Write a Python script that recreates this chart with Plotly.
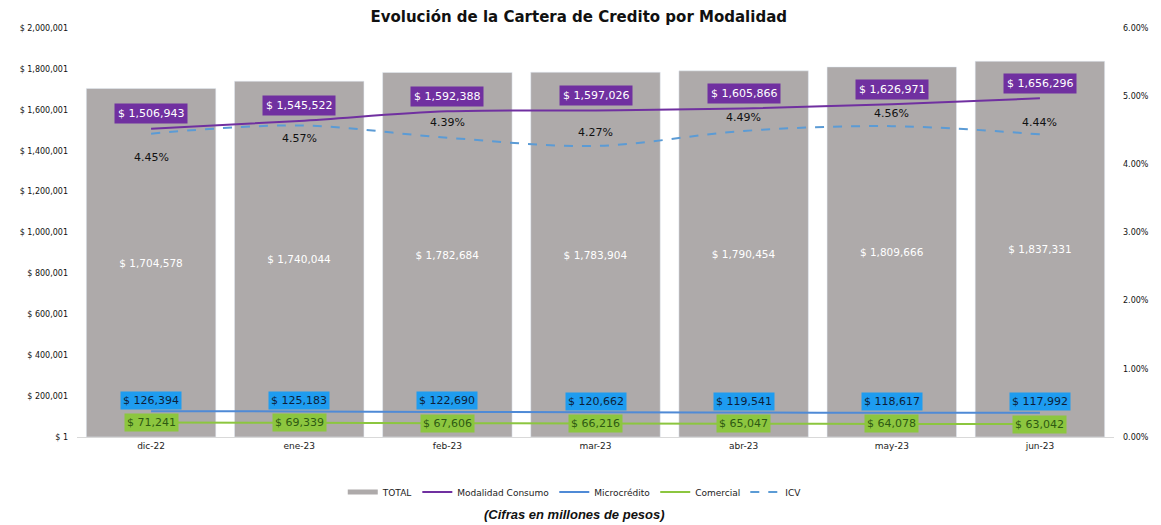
import plotly.graph_objects as go

categories = ["dic-22", "ene-23", "feb-23", "mar-23", "abr-23", "may-23", "jun-23"]
total = [1704578, 1740044, 1782684, 1783904, 1790454, 1809666, 1837331]
consumo = [1506943, 1545522, 1592388, 1597026, 1605866, 1626971, 1656296]
micro = [126394, 125183, 122690, 120662, 119541, 118617, 117992]
comercial = [71241, 69339, 67606, 66216, 65047, 64078, 63042]
icv = [4.45, 4.57, 4.39, 4.27, 4.49, 4.56, 4.44]
icv_label_shift = [-24, -13, 15, 13, 13, 13, 12]

left_tickvals = [1, 200001, 400001, 600001, 800001, 1000001, 1200001, 1400001, 1600001, 1800001, 2000001]
left_ticktext = ["$ " + f"{v:,}" for v in left_tickvals]
right_tickvals = [0, 1, 2, 3, 4, 5, 6]
right_ticktext = [f"{v:.2f}%" for v in right_tickvals]

FONT = "DejaVu Sans"
GRAY = "#aeaaaa"
PURPLE = "#7030a0"
BLUE = "#4f8ad6"
BLUE_BOX = "#1e9cf0"
GREEN = "#8cc63f"
ICV_C = "#5b9bd5"

def fmt(v):
    return "$ " + f"{v:,}"

fig = go.Figure()
fig.add_trace(go.Bar(
    x=categories, y=total, marker_color=GRAY, showlegend=False,
    text=[fmt(v) for v in total], textposition="inside", insidetextanchor="middle",
    textfont=dict(color="white", size=10.5, family=FONT), hoverinfo="skip",
))
# legend proxy for TOTAL
fig.add_trace(go.Scatter(x=[None], y=[None], mode="lines", name="TOTAL",
                         line=dict(color=GRAY, width=5)))
fig.add_trace(go.Scatter(x=categories, y=consumo, mode="lines", name="Modalidad Consumo",
                         line=dict(color=PURPLE, width=2, shape="spline")))
fig.add_trace(go.Scatter(x=categories, y=micro, mode="lines", name="Microcrédito",
                         line=dict(color=BLUE, width=2, shape="spline")))
fig.add_trace(go.Scatter(x=categories, y=comercial, mode="lines", name="Comercial",
                         line=dict(color=GREEN, width=2, shape="spline")))
fig.add_trace(go.Scatter(x=categories, y=icv, mode="lines", name="ICV", yaxis="y2",
                         line=dict(color=ICV_C, width=2, dash="dash", shape="spline")))

ann = []
for c, v in zip(categories, consumo):
    ann.append(dict(x=c, y=v, text=fmt(v), showarrow=False, yshift=15,
                    bgcolor=PURPLE, borderpad=3,
                    font=dict(color="white", size=11, family=FONT)))
for c, v, s in zip(categories, icv, icv_label_shift):
    ann.append(dict(x=c, y=v, yref="y2", text=f"{v:.2f}%", showarrow=False, yshift=s,
                    font=dict(color="#111111", size=11, family=FONT)))
for c, v in zip(categories, micro):
    ann.append(dict(x=c, y=v, text=fmt(v), showarrow=False, yshift=11,
                    bgcolor=BLUE_BOX, borderpad=2,
                    font=dict(color="#0d1f3a", size=11, family=FONT)))
for c, v in zip(categories, comercial):
    ann.append(dict(x=c, y=v, text=fmt(v), showarrow=False, yshift=0,
                    bgcolor=GREEN, borderpad=2,
                    font=dict(color="#2e5a12", size=11, family=FONT)))
ann.append(dict(xref="paper", yref="paper", x=0.48, y=0, yshift=-77, yanchor="middle",
                text="<b><i>(Cifras en millones de pesos)</i></b>", showarrow=False,
                font=dict(size=13, family="Liberation Sans", color="#111111")))

fig.update_layout(
    width=1153, height=517,
    margin=dict(l=69, r=43, t=20, b=88),
    plot_bgcolor="white", paper_bgcolor="white",
    title=dict(text="<b>Evolución de la Cartera de Credito por Modalidad</b>",
               x=0.495, xanchor="center", y=1 - 8.5 / 517, yanchor="middle", yref="container",
               font=dict(size=15, family=FONT, color="#111111")),
    bargap=0.126,
    xaxis=dict(showline=True, linecolor="#d9d9d9", ticks="",
               tickfont=dict(size=9, family=FONT, color="#222222")),
    yaxis=dict(range=[1, 2000001], tickvals=left_tickvals, ticktext=left_ticktext,
               showgrid=False, zeroline=False, ticklabelstandoff=8,
               tickfont=dict(size=8, family=FONT, color="#111111")),
    yaxis2=dict(range=[0, 6], tickvals=right_tickvals, ticktext=right_ticktext,
                overlaying="y", side="right", showgrid=False, zeroline=False,
                ticklabelstandoff=8,
                tickfont=dict(size=8, family=FONT, color="#111111")),
    legend=dict(orientation="h", x=0.48, xanchor="center", y=-55 / 409, yanchor="middle",
                font=dict(size=9, family=FONT, color="#222222")),
    annotations=ann,
)

fig.write_html("out.html")
